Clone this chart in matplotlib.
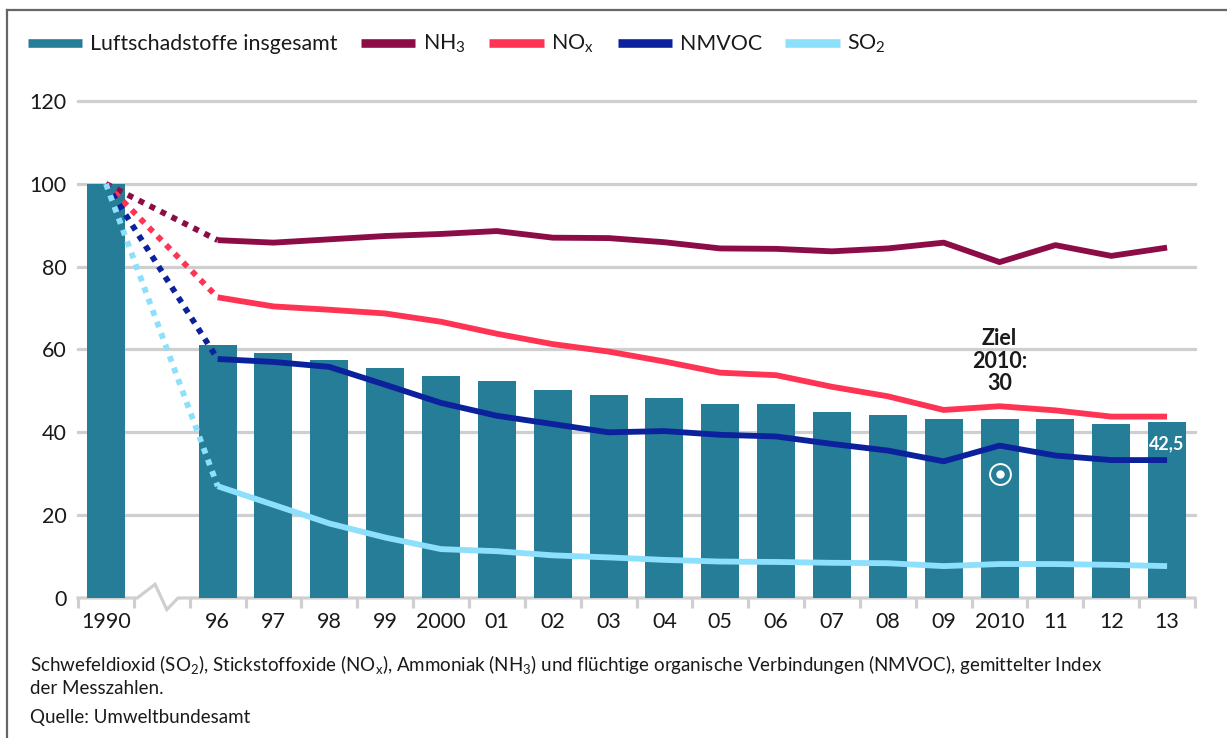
import numpy as np
import matplotlib
matplotlib.use('Agg')
import matplotlib.pyplot as plt
from matplotlib.lines import Line2D

plt.rcParams['font.family'] = ['Lato', 'DejaVu Sans']
plt.rcParams['mathtext.fontset'] = 'custom'
plt.rcParams['mathtext.rm'] = 'Lato'
plt.rcParams['mathtext.it'] = 'Lato'
plt.rcParams['mathtext.bf'] = 'Lato:bold'

# Data (index, 1990 = 100)
years = ['1990', '', '96', '97', '98', '99', '2000', '01', '02', '03', '04',
         '05', '06', '07', '08', '09', '2010', '11', '12', '13']
total = [100, None, 61.0, 59.2, 57.5, 55.5, 53.5, 52.3, 50.3, 49.0, 48.2,
         46.8, 46.8, 45.0, 44.3, 43.2, 43.2, 43.2, 41.9, 42.5]
nh3 = [100, None, 86.4, 85.8, 86.6, 87.4, 87.9, 88.6, 87.0, 86.9, 85.9,
       84.4, 84.3, 83.7, 84.4, 85.8, 81.1, 85.2, 82.6, 84.6]
nox = [100, None, 72.6, 70.4, 69.6, 68.7, 66.7, 63.8, 61.3, 59.5, 57.1,
       54.4, 53.8, 51.0, 48.7, 45.4, 46.3, 45.3, 43.8, 43.8]
nmvoc = [100, None, 57.7, 57.0, 55.8, 51.5, 47.1, 44.0, 42.0, 40.0, 40.3,
         39.4, 39.0, 37.2, 35.6, 33.0, 36.8, 34.4, 33.3, 33.3]
so2 = [100, None, 27.0, 22.5, 18.0, 14.6, 11.8, 11.3, 10.3, 9.8, 9.2,
       8.8, 8.7, 8.5, 8.4, 7.7, 8.2, 8.2, 8.0, 7.7]
target = 30

c_bar = '#257d97'
c_nh3 = '#8c0c46'
c_nox = '#ff3454'
c_nmvoc = '#0b229c'
c_so2 = '#8de0fb'
grid_c = '#cfcfcf'
txt_c = '#1a1a1a'

fig = plt.figure(figsize=(12.27, 7.38), dpi=100)
ax = fig.add_axes([78/1227, 140/738, (1195-78)/1227, (598-101)/738])

x = np.arange(len(years))
bx = [i for i in x if total[i] is not None]
bv = [total[i] for i in bx]
ax.bar(bx, bv, width=0.68, color=c_bar, zorder=2)

# lines: dotted from 1990 to 96, solid afterwards
for ser, col in [(nh3, c_nh3), (nox, c_nox), (nmvoc, c_nmvoc), (so2, c_so2)]:
    ax.plot([0, 2], [ser[0], ser[2]], color=col, lw=4.2, ls=(0, (1, 1.1)),
            dash_capstyle='butt', zorder=3)
    ax.plot(x[2:], ser[2:], color=col, lw=4.2, solid_joinstyle='round',
            solid_capstyle='butt', zorder=3)

ax.set_xlim(-0.5, 19.5)
ax.set_ylim(0, 120)
for yv in range(20, 121, 20):
    ax.axhline(yv, color=grid_c, lw=2.3, zorder=1, clip_on=False)

# x axis with break
ax.plot([-0.5, 0.56, 0.88, 1.09, 1.29, 19.5], [0, 0, 3.3, -2.8, 0, 0],
        color=grid_c, lw=2.3, clip_on=False, zorder=1, solid_joinstyle='miter')

for s in ax.spines.values():
    s.set_visible(False)
ax.set_xticks(x)
ax.set_xticklabels(years)
ax.set_xticks(np.arange(-0.5, 20, 1), minor=True)
ax.tick_params(axis='x', which='major', length=0, pad=10, labelsize=15.5,
               labelcolor=txt_c)
ax.tick_params(axis='x', which='minor', length=7, width=2.3, color=grid_c,
               direction='out')
ax.set_yticks(range(0, 121, 20))
ax.tick_params(axis='y', length=0, pad=8, labelsize=15.5, labelcolor=txt_c)

# annotations
ax.text(16, 57.2, 'Ziel\n2010:\n30', ha='center', va='center', fontsize=15.5,
        fontweight='bold', color=txt_c, linespacing=1.1)
ax.plot(16, target, 'o', ms=15, mfc='none', mec='white', mew=1.4, zorder=4)
ax.plot(16, target, 'o', ms=5, mfc='white', mec='white', zorder=4)
ax.text(19, 37.3, '42,5', ha='center', va='center', fontsize=13,
        fontweight='bold', color='white', zorder=5)

# legend
handles = [Line2D([], [], color=c, lw=6.2, solid_capstyle='butt')
           for c in [c_bar, c_nh3, c_nox, c_nmvoc, c_so2]]
labels = ['Luftschadstoffe insgesamt', r'NH$_\mathregular{3}$',
          r'NO$_\mathregular{x}$', 'NMVOC', r'SO$_\mathregular{2}$']
fig.legend(handles, labels, ncol=5, loc='center left',
           bbox_to_anchor=(0.007, 0.94), frameon=False, fontsize=15.4,
           handlelength=2.55, handletextpad=0.35, columnspacing=1.1,
           labelcolor=txt_c)

# footnotes
fs = 13.5
fig.text(30/1227, 1 - 664/738,
         r'Schwefeldioxid (SO$_\mathregular{2}$), Stickstoffoxide (NO$_\mathregular{x}$), '
         r'Ammoniak (NH$_\mathregular{3}$) und flüchtige organische Verbindungen '
         r'(NMVOC), gemittelter Index', fontsize=fs, va='center', color=txt_c)
fig.text(30/1227, 1 - 688/738, 'der Messzahlen.', fontsize=fs, va='center',
         color=txt_c)
fig.text(30/1227, 1 - 718/738, 'Quelle: Umweltbundesamt', fontsize=fs,
         va='center', color=txt_c)

# frame
fig.add_artist(Line2D([7/1227, 1], [1 - 10/738, 1 - 10/738],
                      transform=fig.transFigure, color='#666666', lw=1.6))
fig.add_artist(Line2D([7/1227, 7/1227], [0, 1 - 10/738],
                      transform=fig.transFigure, color='#666666', lw=1.6))

fig.savefig('out.png', dpi=100)
